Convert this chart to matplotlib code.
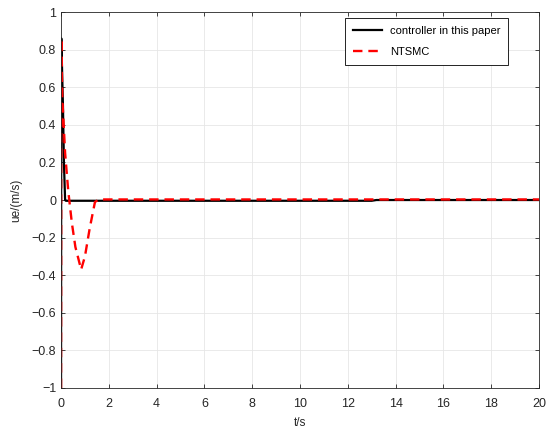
import matplotlib.pyplot as plt
import numpy as np
from matplotlib.ticker import FuncFormatter

plt.rcParams['font.family'] = ['Liberation Sans', 'DejaVu Sans']

# controller in this paper
t_ctrl = [0, 0.01, 0.08, 0.12, 0.17, 0.2, 13.0, 13.2, 20]
u_ctrl = [-1, 0.86, 0.5, 0.2, 0.0, -0.004, -0.004, 0.0, 0.0]

# NTSMC
t_nt = [0, 0.01, 0.05, 0.17, 0.3, 0.45, 0.6, 0.84, 1.0, 1.2, 1.42, 1.6, 20]
u_nt = [-1, 0.86, 0.55, 0.25, 0.05, -0.12, -0.25, -0.37, -0.3, -0.15, -0.01, 0.003, 0.003]

xticks = np.arange(0, 21, 2)
yticks = np.arange(-1, 1.01, 0.2)

fig = plt.figure(figsize=(5.5, 4.32), dpi=100)
ax = fig.add_axes([0.111, 0.102, 0.869, 0.870])

ax.plot(t_ctrl, u_ctrl, color='k', lw=1.6, label='controller in this paper')
ax.plot(t_nt, u_nt, color='r', lw=1.7, ls=(0, (4, 2.5)), label='NTSMC')

ax.set_xlim(0, 20)
ax.set_ylim(-1, 1)
ax.set_xticks(xticks)
ax.set_yticks(yticks)
fmt = FuncFormatter(lambda v, p: ('%g' % (round(v, 2) + 0.0)).replace('-', '\u2212'))
ax.yaxis.set_major_formatter(fmt)
ax.xaxis.set_major_formatter(fmt)
ax.grid(True, color='#e6e6e6', lw=0.6)
ax.set_axisbelow(True)
ax.tick_params(direction='in', top=True, right=True, labelsize=9,
               colors='#262626', length=3, width=0.6)
ax.tick_params(axis='x', pad=7)
for s in ax.spines.values():
    s.set_color('#262626')
    s.set_linewidth(0.6)

ax.set_xlabel('t/s', fontsize=8.5, color='#262626', labelpad=5)
ax.set_ylabel('ue/(m/s)', fontsize=8.5, color='#262626', labelpad=7)

leg = ax.legend(loc='upper right', bbox_to_anchor=(0.935, 0.984), fontsize=8,
                fancybox=False, framealpha=1, edgecolor='k', handlelength=2.6,
                borderpad=0.7, labelspacing=1.0, handletextpad=0.7,
                borderaxespad=0)
leg.get_frame().set_linewidth(0.6)

fig.savefig('out.png', dpi=100)
